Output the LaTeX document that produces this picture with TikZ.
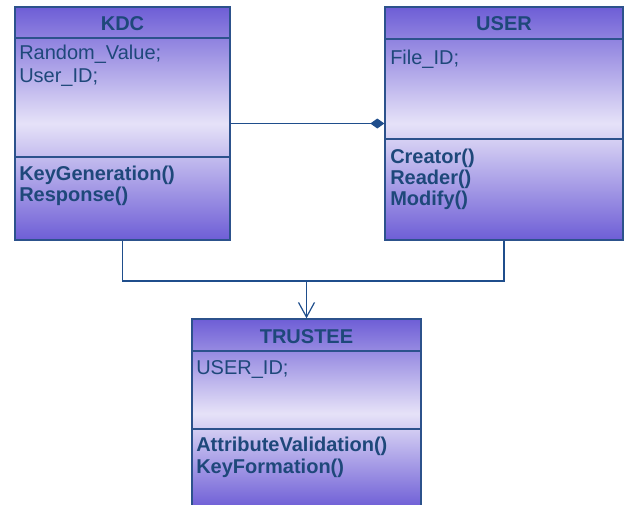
\documentclass[tikz,border=0pt]{standalone}
\usepackage{fontspec}
\setmainfont{Liberation Sans}
\usepackage{xcolor}
\definecolor{classtop}{RGB}{110, 94, 214}
\definecolor{classmid}{RGB}{230, 226, 248}
\definecolor{classedge}{RGB}{44, 82, 140}
\definecolor{classtext}{RGB}{30, 72, 122}
\definecolor{linkcol}{RGB}{31, 78, 140}
\usepackage{tikz}
\usetikzlibrary{arrows.meta, positioning, calc}
\tikzstyle{classbox} = [rectangle, draw=classedge, line width=1pt, top color=classtop, bottom color=classtop, middle color=classmid, inner sep=0pt]
\tikzstyle{title} = [anchor=base, text=classtext, font=\fontsize{15}{18}\selectfont\bfseries, inner sep=0pt]
\tikzstyle{attr} = [anchor=base west, text=classtext, font=\fontsize{15}{18}\selectfont, inner sep=0pt]
\tikzstyle{method} = [attr, font=\fontsize{15}{18}\selectfont\bfseries]
\tikzstyle{divider} = [draw=classedge, line width=1pt]
\tikzstyle{link} = [draw=linkcol, line width=0.9pt]

\begin{document}
\begin{tikzpicture}[x=0.75pt, y=-0.75pt]
    \useasboundingbox (0,0) rectangle (624,504);

    % classes
    \node[classbox, minimum width=161.25pt, minimum height=174.75pt] (kdc) at (122.5,123.5) {};
    \node[classbox, minimum width=178.5pt, minimum height=174.75pt] (user) at (504,123.5) {};
    \node[classbox, minimum width=171.75pt, minimum height=141.75pt] (trustee) at (306.5,413.5) {};

    % compartments
    \draw[divider] (15,38) -- (230,38);
    \draw[divider] (15,157) -- (230,157);
    \draw[divider] (385,39) -- (623,39);
    \draw[divider] (385,139) -- (623,139);
    \draw[divider] (192,351) -- (421,351);
    \draw[divider] (192,429) -- (421,429);

    % KDC
    \node[title] (kdctitle) at (122.5,30) {KDC};
    \node[attr] (kdcrand) at (19,59) {Random\_Value;};
    \node[attr] (kdcuid) at (19,82) {User\_ID;};
    \node[method] (kdckeygen) at (19,180) {KeyGeneration()};
    \node[method] (kdcresp) at (19,201) {Response()};

    % USER
    \node[title] (usertitle) at (504,30) {USER};
    \node[attr] (userfile) at (390,64) {File\_ID;};
    \node[method] (usercreator) at (390,163) {Creator()};
    \node[method] (userreader) at (390,184) {Reader()};
    \node[method] (usermodify) at (390,205) {Modify()};

    % TRUSTEE
    \node[title] (trusteetitle) at (306.5,343) {TRUSTEE};
    \node[attr] (trusteeuid) at (196,374) {USER\_ID;};
    \node[method] (trusteeattr) at (196,451) {AttributeValidation()};
    \node[method] (trusteekey) at (196,473) {KeyFormation()};

    % links
    \coordinate (join) at (306.5,281);
    \draw[link, -{Diamond[length=10.5pt, width=7.5pt]}] (kdc) -- (user);
    \draw[link] (kdc.south) |- (join) -| (user.south);
    \draw[link, -{Straight Barb[length=11pt, width=12pt, line width=0.9pt]}] (join) -- (trustee.north);
\end{tikzpicture}
\end{document}
